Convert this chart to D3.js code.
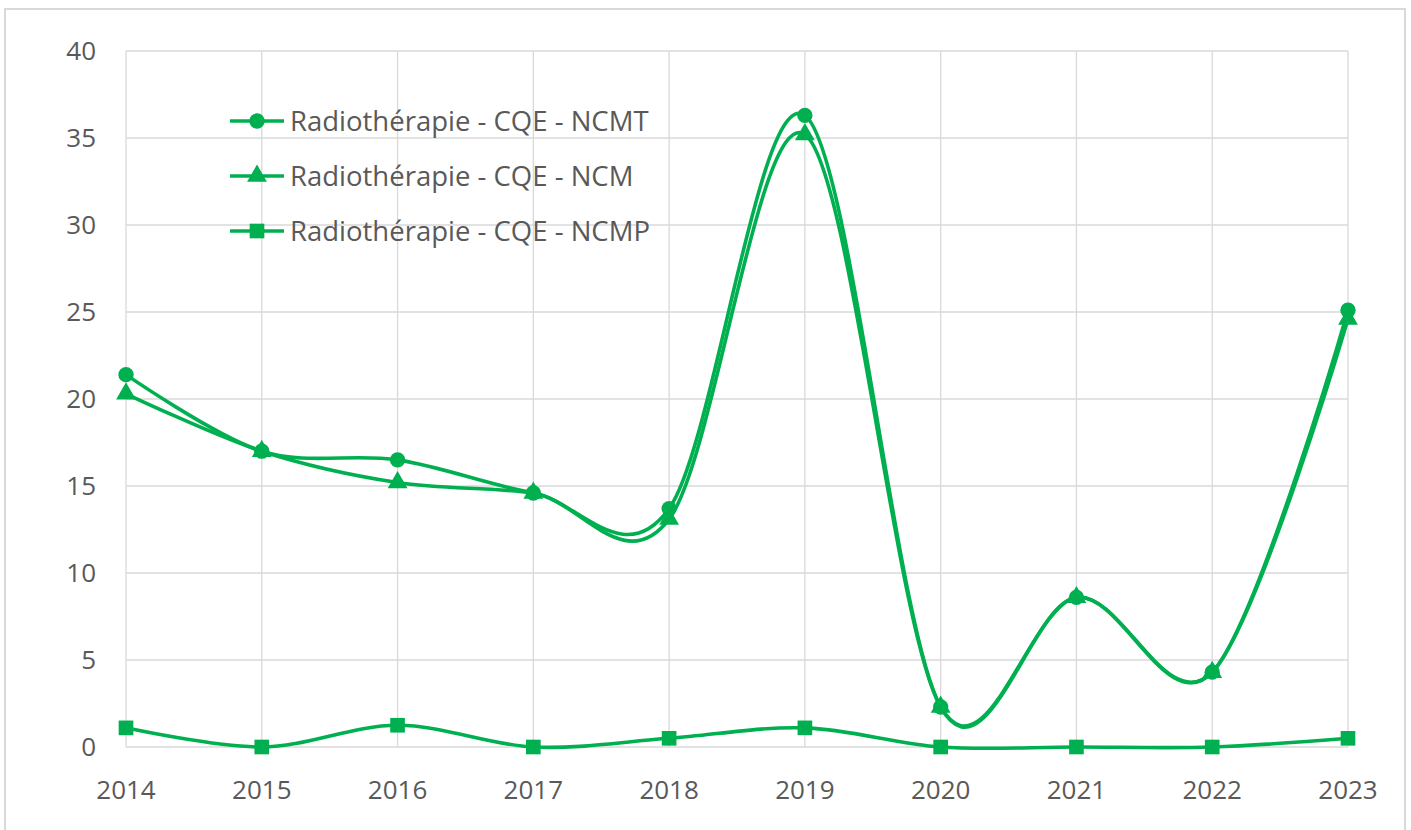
<!DOCTYPE html>
<html lang="fr">
  <head>
    <script src="https://d3js.org/d3.v7.min.js"></script>
    <meta charset="utf-8">
    <style>
      body { margin: 0; background: #fff; }
      .grid line { stroke: #d9d9d9; stroke-width: 1.3; }
      .tick-label { font: 26px "Open Sans", "Noto Sans", sans-serif; fill: #595959; }
      .legend text { font: 27.5px "Open Sans", "Noto Sans", sans-serif; fill: #595959; }
    </style>
    <title>Radiothérapie - CQE</title>
  </head>
  <body>
    <svg id="chart" width="1411" height="830"></svg>
  </body>
</html>

<script>
    const years = [2014, 2015, 2016, 2017, 2018, 2019, 2020, 2021, 2022, 2023];
    const yTicks = [0, 5, 10, 15, 20, 25, 30, 35, 40];

    const ncmt = [21.4, 17.0, 16.5, 14.6, 13.7, 36.3, 2.3, 8.6, 4.3, 25.1];
    const ncm  = [20.3, 17.0, 15.2, 14.6, 13.1, 35.2, 2.3, 8.6, 4.3, 24.6];
    const ncmp = [1.1, 0, 1.25, 0, 0.5, 1.1, 0, 0, 0, 0.5];

    const seriesNames = [
        "Radiothérapie - CQE - NCMT",
        "Radiothérapie - CQE - NCM",
        "Radiothérapie - CQE - NCMP"
    ];
    const series = [
        { name: seriesNames[0], values: ncmt, symbol: d3.symbolCircle, size: 185 },
        { name: seriesNames[1], values: ncm, symbol: d3.symbolTriangle, size: 170 },
        { name: seriesNames[2], values: ncmp, symbol: d3.symbolSquare, size: 215 }
    ];

    const green = "#00b050";
    const svg = d3.select("#chart");

    // cadre du graphique
    svg.append("rect")
        .attr("x", 5).attr("y", 9)
        .attr("width", 1400).attr("height", 830)
        .attr("fill", "#fff")
        .attr("stroke", "#d9d9d9")
        .attr("stroke-width", 2);

    const x = d3.scaleLinear().domain([2014, 2023]).range([126, 1348]);
    const y = d3.scaleLinear().domain([0, 40]).range([747, 51]);

    // grille
    const grid = svg.append("g").attr("class", "grid");
    grid.selectAll(".h").data(yTicks).enter().append("line")
        .attr("x1", x(2014)).attr("x2", x(2023))
        .attr("y1", d => y(d)).attr("y2", d => y(d));
    grid.selectAll(".v").data(years).enter().append("line")
        .attr("x1", d => x(d)).attr("x2", d => x(d))
        .attr("y1", y(0)).attr("y2", y(40));

    // étiquettes des axes
    svg.append("g").selectAll("text").data(yTicks).enter().append("text")
        .attr("class", "tick-label")
        .attr("x", 96)
        .attr("y", d => y(d))
        .attr("dy", "0.36em")
        .attr("text-anchor", "end")
        .text(d => d);

    svg.append("g").selectAll("text").data(years).enter().append("text")
        .attr("class", "tick-label")
        .attr("x", d => x(d))
        .attr("y", 799)
        .attr("text-anchor", "middle")
        .text(d => d);

    // courbes lissées
    const line = d3.line()
        .x((d, i) => x(years[i]))
        .y(d => y(d))
        .curve(d3.curveCatmullRom.alpha(0));

    const plot = svg.append("g");
    series.forEach(s => {
        plot.append("path")
            .attr("d", line(s.values))
            .attr("fill", "none")
            .attr("stroke", green)
            .attr("stroke-width", 3.6);
    });
    series.forEach(s => {
        plot.append("g").selectAll("path").data(s.values).enter().append("path")
            .attr("transform", (d, i) => `translate(${x(years[i])},${y(d)})`)
            .attr("d", d3.symbol().type(s.symbol).size(s.size))
            .attr("fill", green);
    });

    // légende
    const legend = svg.append("g").attr("class", "legend");
    const rows = legend.selectAll("g").data(series).enter().append("g")
        .attr("transform", (d, i) => `translate(230,${121 + i * 55})`);
    rows.append("line")
        .attr("x1", 0).attr("x2", 54)
        .attr("stroke", green).attr("stroke-width", 3.6);
    rows.append("path")
        .attr("transform", "translate(27,0)")
        .attr("d", d => d3.symbol().type(d.symbol).size(d.size)())
        .attr("fill", green);
    rows.append("text")
        .attr("x", 60)
        .attr("dy", "0.36em")
        .text(d => d.name);
</script>
